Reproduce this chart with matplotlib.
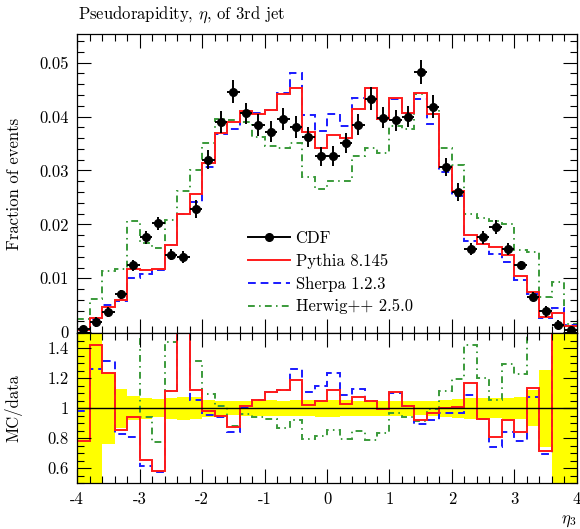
import numpy as np
import matplotlib
matplotlib.use("Agg")
import matplotlib.pyplot as plt
from matplotlib.lines import Line2D
from matplotlib.ticker import MultipleLocator

plt.rcParams["font.family"] = "serif"
plt.rcParams["font.serif"] = ["cmr10"]
plt.rcParams["mathtext.fontset"] = "cm"
plt.rcParams["font.size"] = 12

# 40 bins of 0.2 in eta_3
EDGES = np.linspace(-4.0, 4.0, 41)

CDF = [0.0006, 0.0019, 0.0038, 0.0070, 0.0124, 0.0176, 0.0202, 0.0144, 0.0140, 0.0229,
       0.0320, 0.0390, 0.0446, 0.0406, 0.0384, 0.0372, 0.0395, 0.0381, 0.0362, 0.0326,
       0.0327, 0.0351, 0.0385, 0.0433, 0.0398, 0.0393, 0.0400, 0.0482, 0.0418, 0.0307,
       0.0260, 0.0155, 0.0176, 0.0195, 0.0155, 0.0124, 0.0066, 0.0039, 0.0014, 0.0005]
CDF_ERR = [0.0004, 0.0010, 0.0009, 0.0009, 0.0010, 0.0012, 0.0012, 0.0010, 0.0011, 0.0017,
           0.0018, 0.0020, 0.0021, 0.0020, 0.0020, 0.0020, 0.0020, 0.0020, 0.0019, 0.0018,
           0.0018, 0.0019, 0.0020, 0.0021, 0.0020, 0.0020, 0.0020, 0.0022, 0.0021, 0.0017,
           0.0016, 0.0011, 0.0012, 0.0013, 0.0011, 0.0009, 0.0008, 0.0010, 0.0008, 0.0004]
PYTHIA = [0.00047, 0.0027, 0.0047, 0.0060, 0.0117, 0.0115, 0.0118, 0.0161, 0.0220, 0.0257,
          0.0314, 0.0369, 0.0390, 0.0411, 0.0405, 0.0413, 0.0442, 0.0453, 0.0371, 0.0341,
          0.0366, 0.0360, 0.0414, 0.0453, 0.0396, 0.0435, 0.0407, 0.0443, 0.0405, 0.0307,
          0.0262, 0.0181, 0.0164, 0.0158, 0.0143, 0.0104, 0.0075, 0.0028, 0.0035, 0.0012]
SHERPA = [0.00059, 0.0024, 0.0050, 0.0058, 0.0100, 0.0108, 0.0116, 0.0161, 0.0220, 0.0241,
          0.0306, 0.0367, 0.0376, 0.0406, 0.0406, 0.0413, 0.0444, 0.0480, 0.0402, 0.0374,
          0.0404, 0.0383, 0.0435, 0.0453, 0.0396, 0.0432, 0.0407, 0.0432, 0.0386, 0.0298,
          0.0252, 0.0169, 0.0164, 0.0145, 0.0130, 0.0097, 0.0071, 0.0027, 0.0045, 0.0013]
HERWIG = [0.0025, 0.0062, 0.0113, 0.0118, 0.0206, 0.0166, 0.0156, 0.0208, 0.0262, 0.0301,
          0.0350, 0.0395, 0.0394, 0.0390, 0.0362, 0.0345, 0.0342, 0.0351, 0.0287, 0.0265,
          0.0280, 0.0280, 0.0327, 0.0342, 0.0333, 0.0382, 0.0376, 0.0441, 0.0416, 0.0342,
          0.0310, 0.0220, 0.0212, 0.0206, 0.0201, 0.0152, 0.0148, 0.0066, 0.0093, 0.0016]

LABELS = ["CDF", "Pythia 8.145", "Sherpa 1.2.3", "Herwig++ 2.5.0"]
XTICKS = [-4, -3, -2, -1, 0, 1, 2, 3, 4]
XTICKLABELS = ["-4", "-3", "-2", "-1", "0", "1", "2", "3", "4"]
MAIN_YTICKS = [0, 0.01, 0.02, 0.03, 0.04, 0.05]
MAIN_YTICKLABELS = ["0", "0.01", "0.02", "0.03", "0.04", "0.05"]
RATIO_YTICKS = [0.6, 0.8, 1.0, 1.2, 1.4]
RATIO_YTICKLABELS = ["0.6", "0.8", "1", "1.2", "1.4"]

RED, BLUE, GREEN = "#ff1a1a", "#1a1aff", "#3a9a3a"
DASH = (0, (4, 2.5))
DASHDOT = (0, (3.5, 2.2, 0.8, 2.2))
LW = 1.4

cdf = np.array(CDF)
err = np.array(CDF_ERR)
centers = 0.5 * (EDGES[1:] + EDGES[:-1])
halfw = 0.5 * np.diff(EDGES)

fig = plt.figure(figsize=(5.8, 5.29), dpi=100)
ax = fig.add_axes([0.1328, 0.3699, 0.862, 0.5658])
rx = fig.add_axes([0.1328, 0.0864, 0.862, 0.2835], sharex=ax)

# main panel
ax.stairs(HERWIG, EDGES, baseline=None, color=GREEN, lw=LW, ls=DASHDOT)
ax.stairs(SHERPA, EDGES, baseline=None, color=BLUE, lw=LW, ls=DASH)
ax.stairs(PYTHIA, EDGES, baseline=None, color=RED, lw=LW)
ax.errorbar(centers, cdf, yerr=err, xerr=halfw, fmt="o", color="k", ms=5.5,
            lw=LW, capsize=0, zorder=5)

handles = [Line2D([], [], color="k", marker="o", ms=5.5, lw=LW),
           Line2D([], [], color=RED, lw=LW),
           Line2D([], [], color=BLUE, lw=LW, ls=DASH),
           Line2D([], [], color=GREEN, lw=LW, ls=DASHDOT)]
ax.legend(handles, LABELS, loc="center left", bbox_to_anchor=(0.342, 0.203),
          frameon=False, numpoints=1, handlelength=2.5, handletextpad=0.35,
          labelspacing=0.45, borderpad=0, borderaxespad=0)

ax.set_xlim(-4, 4)
ax.set_ylim(-0.0002, 0.0553)
ax.set_yticks(MAIN_YTICKS, MAIN_YTICKLABELS)
ax.yaxis.set_minor_locator(MultipleLocator(0.002))
ax.set_ylabel("Fraction of events")
ax.yaxis.set_label_coords(-0.11, 0.5)
ax.tick_params(labelbottom=False)

# ratio panel
rel = err / cdf
rx.stairs(1 + rel, EDGES, baseline=1 - rel, fill=True, color="#ffff00", lw=0)
rx.axhline(1, color="k", lw=1)
rx.stairs(np.array(HERWIG) / cdf, EDGES, baseline=None, color=GREEN, lw=LW, ls=DASHDOT)
rx.stairs(np.array(SHERPA) / cdf, EDGES, baseline=None, color=BLUE, lw=LW, ls=DASH)
rx.stairs(np.array(PYTHIA) / cdf, EDGES, baseline=None, color=RED, lw=LW)
rx.set_ylim(0.5, 1.5)
rx.set_yticks(RATIO_YTICKS, RATIO_YTICKLABELS)
rx.yaxis.set_minor_locator(MultipleLocator(0.05))
rx.set_xticks(XTICKS, XTICKLABELS)
rx.set_ylabel("MC/data")
rx.yaxis.set_label_coords(-0.11, 0.5)

for a in (ax, rx):
    a.xaxis.set_minor_locator(MultipleLocator(0.2))
    a.tick_params(which="both", direction="in", top=True, right=True, width=0.8)
    a.tick_params(which="major", length=10, pad=6)
    a.tick_params(which="minor", length=5)
    for s in a.spines.values():
        s.set_linewidth(0.9)

fig.text(0.1345, 1 - 19 / 529, "Pseudorapidity, $\\eta$, of 3rd jet",
         ha="left", va="baseline")
# x-axis label sits under the tick labels, flush right
fig.text(0.9948, 1 - 521 / 529, "$\\eta_3$", ha="right", va="center")

fig.savefig("out.png", dpi=100)
